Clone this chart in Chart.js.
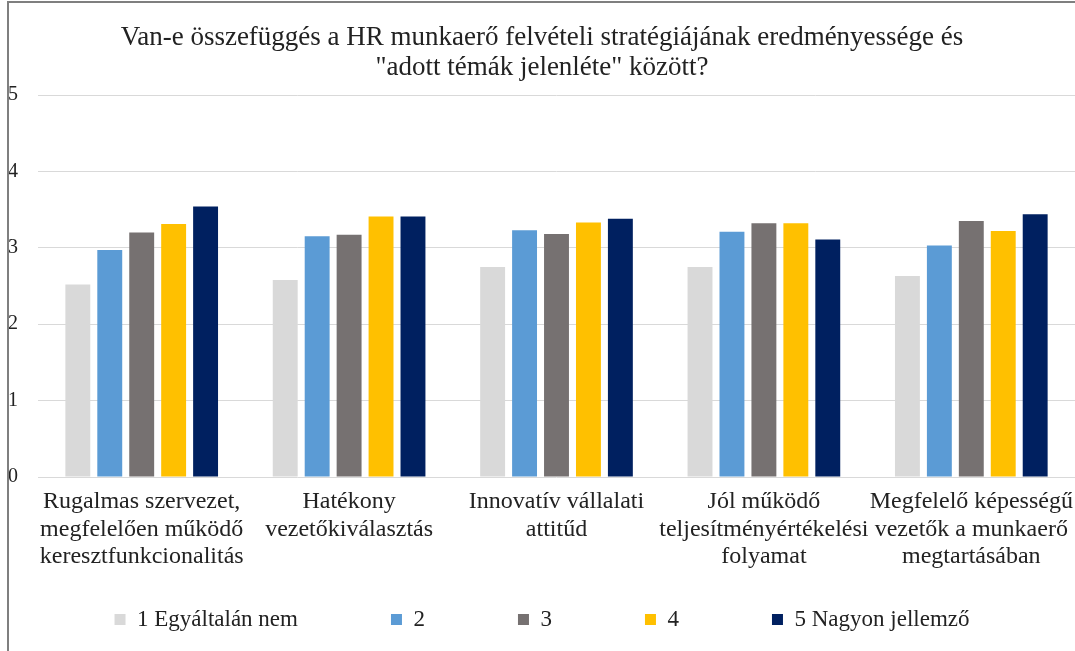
<!DOCTYPE html>
<html>
<head>
<meta charset="utf-8">
<script src="https://cdn.jsdelivr.net/npm/chart.js@4"></script>
<style>
  html, body { margin: 0; padding: 0; background: #fff; overflow: hidden; }
  #frame {
    position: absolute; left: 7px; top: 1px; width: 1080px; height: 660px;
    border-left: 2px solid #7f7f7f; border-top: 2px solid #7f7f7f;
  }
  #wrap { position: absolute; left: 0; top: 0; width: 1066px; height: 648px; }
</style>
</head>
<body>
<div id="frame"><div id="wrap"><canvas id="hrChart"></canvas></div></div>
<script>
const categories = [
    ['Rugalmas szervezet,', 'megfelelően működő', 'keresztfunkcionalitás'],
    ['Hatékony', 'vezetőkiválasztás'],
    ['Innovatív vállalati', 'attitűd'],
    ['Jól működő', 'teljesítményértékelési', 'folyamat'],
    ['Megfelelő képességű', 'vezetők a munkaerő', 'megtartásában'],
];
const seriesNames = ['1 Egyáltalán nem', '2', '3', '4', '5 Nagyon jellemző'];
const rating1 = [2.52, 2.58, 2.75, 2.75, 2.63];
const rating2 = [2.97, 3.15, 3.23, 3.21, 3.03];
const rating3 = [3.20, 3.17, 3.18, 3.32, 3.35];
const rating4 = [3.31, 3.41, 3.33, 3.32, 3.22];
const rating5 = [3.54, 3.41, 3.38, 3.11, 3.44];
const yTicks = [0, 1, 2, 3, 4, 5];

const colors = ['#D9D9D9', '#5B9BD5', '#767171', '#FFC000', '#002060'];
const serif = "'Liberation Serif', 'Times New Roman', serif";

const ctx = document.getElementById('hrChart').getContext('2d');

const chartData = {
    labels: categories,
    datasets: [rating1, rating2, rating3, rating4, rating5].map((vals, i) => ({
        label: seriesNames[i],
        data: vals,
        backgroundColor: colors[i],
        categoryPercentage: 0.77,
        barPercentage: 0.78,
    })),
};

const chartConfig = {
    type: 'bar',
    data: chartData,
    options: {
        responsive: true,
        maintainAspectRatio: false,
        animation: false,
        layout: { padding: { left: 0, right: 0, top: 0, bottom: 10 } },
        scales: {
            y: {
                min: 0,
                max: 5,
                afterFit: (s) => { s.width = 29; },
                afterBuildTicks: (s) => { s.ticks = yTicks.map(v => ({ value: v })); },
                grid: { color: '#D9D9D9', drawTicks: false },
                border: { display: false },
                ticks: { padding: 20, color: '#222', font: { family: serif, size: 20 } },
            },
            x: {
                // let the last label run to the edge instead of shrinking the plot
                afterFit: (s) => { s.paddingLeft = 0; s.paddingRight = 0; },
                grid: { display: false },
                border: { display: false },
                ticks: { padding: 3, color: '#222', maxRotation: 0, autoSkip: false,
                         font: { family: serif, size: 24, lineHeight: 1.15 } },
            },
        },
        plugins: {
            title: {
                display: true,
                text: ['Van-e összefüggés a HR munkaerő felvételi stratégiájának eredményessége és',
                       '"adott témák jelenléte" között?'],
                color: '#222',
                font: { family: serif, size: 27, weight: 'normal', lineHeight: 1.1 },
                padding: { top: 20, bottom: 12.6 },
            },
            legend: {
                position: 'bottom',
                labels: {
                    boxWidth: 11,
                    boxHeight: 11,
                    padding: 93,
                    color: '#222',
                    font: { family: serif, size: 23 },
                },
                // empty title with negative padding takes back the vertical room
                // that the wide item padding would otherwise reserve
                title: { display: true, text: '', font: { size: 1 }, padding: { top: -60, bottom: 0 } },
            },
            tooltip: { enabled: false },
        },
    },
};

const hrChart = new Chart(ctx, chartConfig);
</script>
</body>
</html>
